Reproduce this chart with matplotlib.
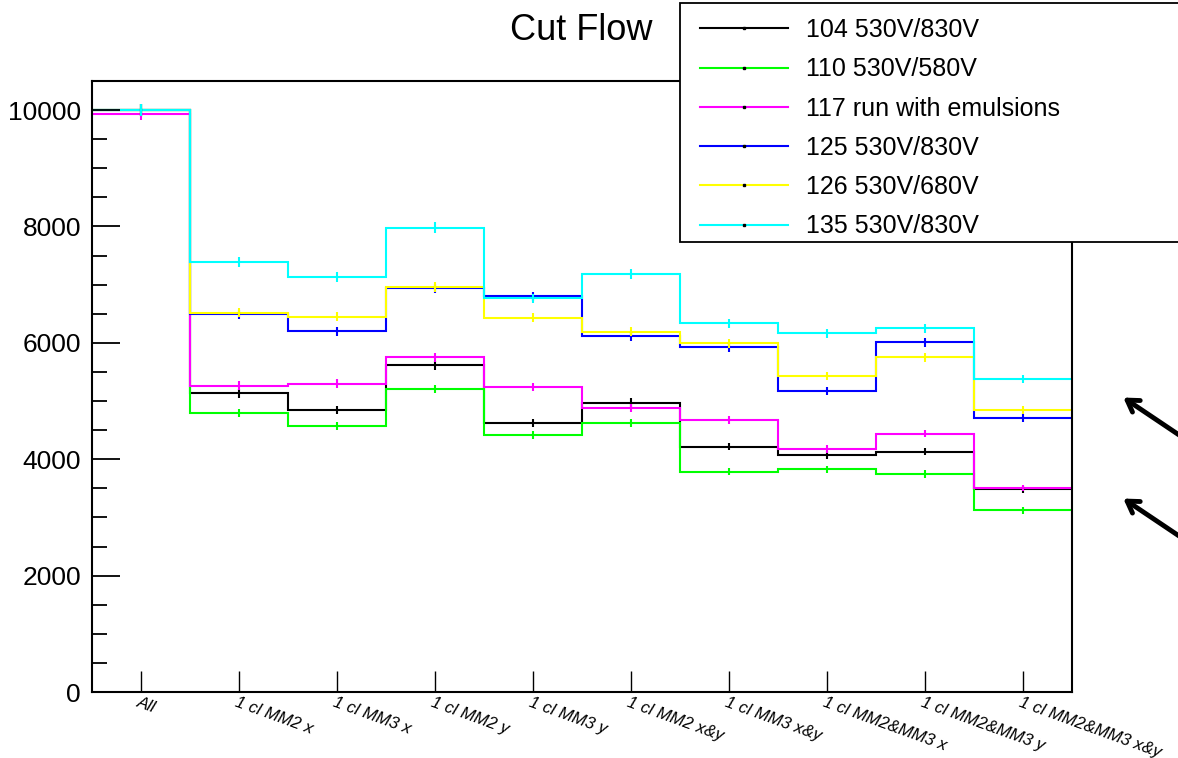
import numpy as np
import matplotlib
matplotlib.use("Agg")
import matplotlib.pyplot as plt
from matplotlib.lines import Line2D
from matplotlib.patches import Rectangle, FancyArrowPatch
from matplotlib.legend_handler import HandlerLine2D

plt.rcParams['font.family'] = ['Liberation Sans', 'DejaVu Sans']

categories = ["All", "1 cl MM2 x", "1 cl MM3 x", "1 cl MM2 y", "1 cl MM3 y",
              "1 cl MM2 x&y", "1 cl MM3 x&y", "1 cl MM2&MM3 x", "1 cl MM2&MM3 y",
              "1 cl MM2&MM3 x&y"]

labels = ["104 530V/830V", "110 530V/580V", "117 run with emulsions",
          "125 530V/830V", "126 530V/680V", "135 530V/830V"]

run104 = [10000, 5130, 4840, 5617, 4618, 4974, 4217, 4074, 4131, 3482]
run110 = [10000, 4800, 4570, 5210, 4418, 4624, 3787, 3826, 3747, 3121]
run117 = [9928, 5267, 5300, 5749, 5244, 4876, 4676, 4177, 4441, 3506]
run125 = [10000, 6489, 6196, 6936, 6800, 6110, 5926, 5169, 6007, 4711]
run126 = [10000, 6517, 6449, 6954, 6432, 6191, 5990, 5427, 5749, 4842]
run135 = [10000, 7384, 7131, 7981, 6764, 7183, 6334, 6162, 6253, 5376]

series = [run104, run110, run117, run125, run126, run135]
colors = ["#000000", "#00ff00", "#ff00ff", "#0000ff", "#ffff00", "#00ffff"]

W, H = 1178, 758
fig = plt.figure(figsize=(W / 100, H / 100), dpi=100)
ax = fig.add_axes([92 / W, 1 - 692 / H, (1072 - 92) / W, (692 - 81) / H])

n = len(categories)
edges = np.arange(n + 1)
centers = edges[:-1] + 0.5

for vals, c in zip(series, colors):
    v = np.array(vals, dtype=float)
    ax.stairs(v, edges, baseline=None, color=c, lw=1.5)
    ax.errorbar(centers, v, yerr=np.sqrt(v), fmt='none', ecolor=c, elinewidth=1.5, capsize=0)

ax.set_xlim(0, n)
ax.set_ylim(0, 10500)

ax.set_yticks(np.arange(0, 10001, 2000))
ax.set_yticks(np.arange(0, 10501, 500), minor=True)
ax.set_yticklabels([str(int(t)) for t in np.arange(0, 10001, 2000)], fontsize=19)
ax.tick_params(axis='y', which='major', direction='in', length=20, width=1.3, pad=8)
ax.tick_params(axis='y', which='minor', direction='in', length=11, width=1.3)

ax.set_xticks(centers)
ax.set_xticklabels([])
ax.tick_params(axis='x', which='major', direction='in', length=15, width=1.0)
for xc, lab in zip(centers, categories):
    ax.text(xc - 0.01, -45, lab, rotation=-20, rotation_mode='anchor', ha='left', va='top',
            fontsize=12.2, style='italic', transform=ax.transData, clip_on=False)

for s in ax.spines.values():
    s.set_linewidth(1.5)

fig.text(581 / W, 1 - 30 / H, "Cut Flow", ha='center', va='center', fontsize=26)

fig.add_artist(Rectangle((680 / W, 1 - 242 / H), 600 / W, 239 / H, transform=fig.transFigure,
                         facecolor='white', edgecolor='black', lw=1.3, zorder=4))

handles = [Line2D([0], [0], color=c, lw=1.5, marker='s', markersize=1.5,
                  markerfacecolor='black', markeredgecolor='black') for c in colors]
leg = fig.legend(handles, labels, loc='upper left',
                 bbox_to_anchor=(680 / W, 1 - 248 / H, 480 / W, 245 / H),
                 fontsize=18, handlelength=3.72, handletextpad=0.72,
                 labelspacing=0.61, borderpad=0.61, borderaxespad=0, frameon=False,
                 handler_map={Line2D: HandlerLine2D(xpad=0.2)})
leg.set_zorder(5)

for yh in (396, 497):
    fig.add_artist(FancyArrowPatch(
        posA=(1270 / W, 1 - (yh + 100) / H), posB=(1121 / W, 1 - yh / H),
        transform=fig.transFigure, arrowstyle='->,head_length=8,head_width=5',
        lw=3.5, color='black', mutation_scale=1, clip_on=False))

fig.savefig("out.png", dpi=100)
